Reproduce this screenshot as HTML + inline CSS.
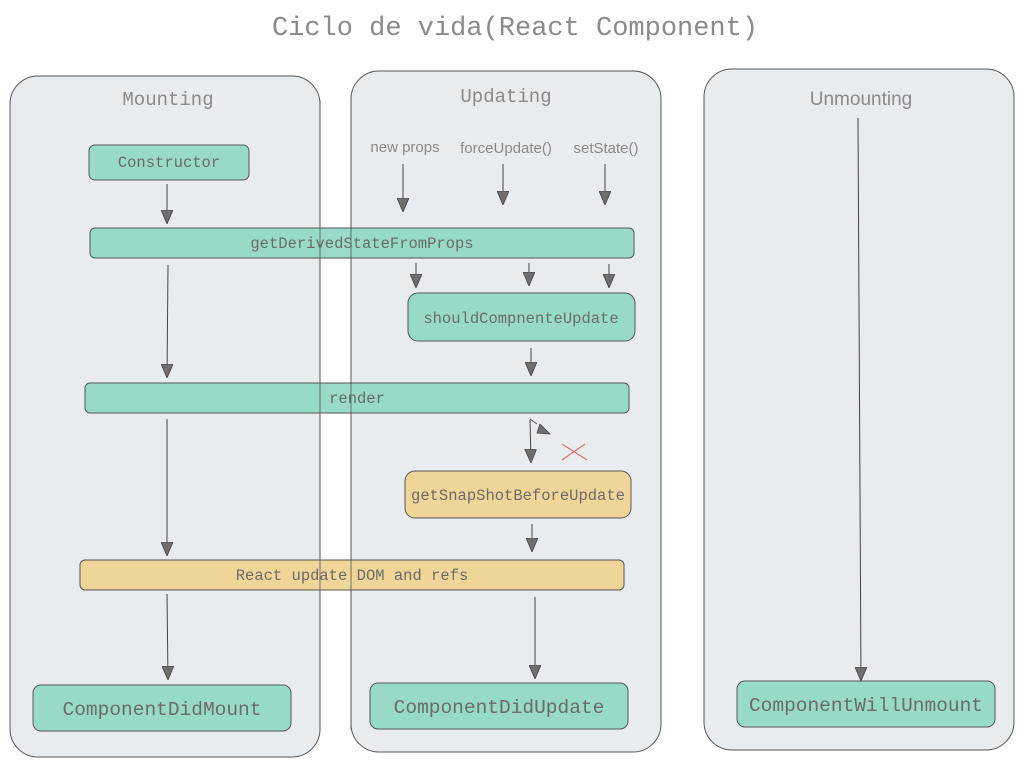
<!DOCTYPE html>
<html><head><meta charset="utf-8"><style>
html,body{margin:0;padding:0;background:#fff;}
svg{display:block}
.m{font-family:"Liberation Mono",monospace;fill:#6b6b6b}
.s{font-family:"Liberation Sans",sans-serif;fill:#8a8a8a}
</style></head><body>
<svg width="1023" height="767" viewBox="0 0 1023 767" xmlns="http://www.w3.org/2000/svg">
<defs>
<marker id="a" viewBox="0 0 14 12" refX="14" refY="6" markerWidth="14" markerHeight="12" markerUnits="userSpaceOnUse" orient="auto">
<path d="M0,0 L14,6 L0,12 Z" fill="#6e6e6e" stroke="#444" stroke-width="0.8"/>
</marker>
</defs>
<text x="515" y="35" text-anchor="middle" class="m" style="font-size:27px;fill:#8a8a8a">Ciclo de vida(React Component)</text>
<g fill="#e9ecef" stroke="#555" stroke-width="1">
<rect x="10" y="76" width="310" height="681" rx="28"/>
<rect x="351" y="71" width="310" height="681" rx="28"/>
<rect x="704" y="69" width="310" height="681" rx="28"/>
</g>
<text x="168" y="105" text-anchor="middle" class="m" style="font-size:19px;fill:#8a8a8a">Mounting</text>
<text x="506" y="102" text-anchor="middle" class="m" style="font-size:19px;fill:#8a8a8a">Updating</text>
<text x="861" y="105" text-anchor="middle" class="s" style="font-size:19px">Unmounting</text>
<text x="405" y="152" text-anchor="middle" class="s" style="font-size:15px">new props</text>
<text x="506" y="153" text-anchor="middle" class="s" style="font-size:15px">forceUpdate()</text>
<text x="606" y="153" text-anchor="middle" class="s" style="font-size:15px">setState()</text>
<g stroke="#555" stroke-width="1" fill-opacity="0.95">
<rect x="89" y="145" width="160" height="35" rx="6" fill="#94d9c5"/>
<rect x="90" y="228" width="544" height="30" rx="5" fill="#94d9c5"/>
<rect x="408" y="293" width="227" height="48" rx="10" fill="#94d9c5"/>
<rect x="85" y="383" width="544" height="30" rx="5" fill="#94d9c5"/>
<rect x="405" y="471" width="226" height="47" rx="10" fill="#f0d494"/>
<rect x="80" y="560" width="544" height="30" rx="5" fill="#f0d494"/>
<rect x="33" y="685" width="258" height="46" rx="8" fill="#94d9c5"/>
<rect x="370" y="683" width="258" height="46" rx="8" fill="#94d9c5"/>
<rect x="737" y="681" width="258" height="46" rx="8" fill="#94d9c5"/>
</g>
<g fill="none" stroke="#555" stroke-width="1" opacity="0.8">
<line x1="320" y1="100" x2="320" y2="730"/>
<line x1="351" y1="100" x2="351" y2="730"/>
</g>
<g class="m" text-anchor="middle" style="font-size:15.5px">
<text x="169" y="167">Constructor</text>
<text x="362" y="248">getDerivedStateFromProps</text>
<text x="521" y="323">shouldCompnenteUpdate</text>
<text x="357" y="403">render</text>
<text x="518" y="500">getSnapShotBeforeUpdate</text>
<text x="352" y="580">React update DOM and refs</text>
<text x="162" y="715" style="font-size:19.5px">ComponentDidMount</text>
<text x="499" y="713" style="font-size:19.5px">ComponentDidUpdate</text>
<text x="866" y="711" style="font-size:19.5px">ComponentWillUnmount</text>
</g>
<g stroke="#444" stroke-width="1" fill="none" marker-end="url(#a)">
<line x1="167" y1="184" x2="167" y2="224"/>
<line x1="168" y1="265" x2="167" y2="378"/>
<line x1="167" y1="419" x2="167" y2="556"/>
<line x1="167" y1="594" x2="168" y2="680"/>
<line x1="403" y1="164" x2="403" y2="212"/>
<line x1="503" y1="164" x2="503" y2="205"/>
<line x1="605" y1="164" x2="605" y2="205"/>
<line x1="416" y1="263" x2="416" y2="288"/>
<line x1="529" y1="263" x2="529" y2="286"/>
<line x1="609" y1="264" x2="609" y2="288"/>
<line x1="531" y1="348" x2="531" y2="376"/>
<line x1="530" y1="420" x2="531" y2="463"/>
<line x1="532" y1="524" x2="532" y2="552"/>
<line x1="535" y1="597" x2="535" y2="679"/>
<line x1="858" y1="118" x2="861" y2="681"/>
</g>
<path d="M530,419 L537,424" stroke="#555" fill="none"/>
<path d="M540,424 L550,434 L537,433 Z" fill="#6e6e6e" stroke="#444" stroke-width="0.8"/>
<g stroke="#e07070" stroke-width="1.2"><line x1="562" y1="444" x2="587" y2="460"/><line x1="562" y1="460" x2="585" y2="444"/></g>
</svg>
</body></html>
